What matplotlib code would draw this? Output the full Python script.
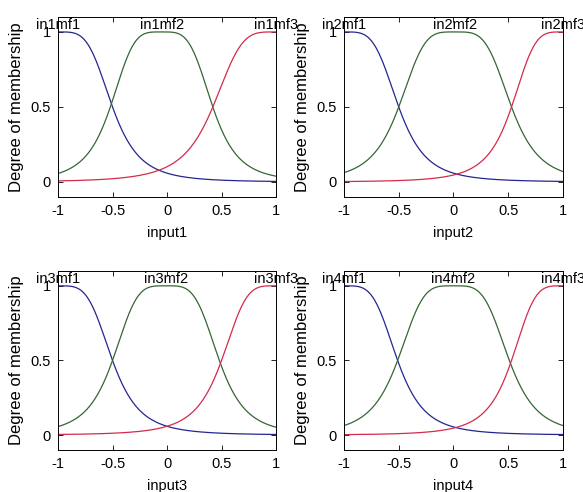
import numpy as np
import matplotlib
matplotlib.use('Agg')
import matplotlib.pyplot as plt

# membership function parameters (generalized bell: width a, slope b, centre c)
# one list per input: [mf1, mf2, mf3]
input_names = ['input1', 'input2', 'input3', 'input4']
mf_names = [['in1mf1', 'in1mf2', 'in1mf3'],
            ['in2mf1', 'in2mf2', 'in2mf3'],
            ['in3mf1', 'in3mf2', 'in3mf3'],
            ['in4mf1', 'in4mf2', 'in4mf3']]
widths = [[0.50, 0.47, 0.58],
          [0.50, 0.515, 0.47],
          [0.50, 0.49, 0.50],
          [0.49, 0.51, 0.47]]
slopes = [[2.0, 2.0, 2.0],
          [2.0, 2.0, 2.0],
          [2.0, 2.0, 2.0],
          [2.0, 2.0, 2.0]]
centres = [[-1.0, -0.05, 1.0],
           [-1.0, 0.015, 1.0],
           [-1.0, -0.01, 1.0],
           [-1.0, 0.0, 1.0]]
x_ticks = [-1, -0.5, 0, 0.5, 1]
y_ticks = [0, 0.5, 1]
x_tick_labels = ['-1', '-0.5', '0', '0.5', '1']
y_tick_labels = ['0', '0.5', '1']

colors = ['#25258f', '#356635', '#d42a4c']
fam = ['Liberation Sans', 'DejaVu Sans']


def gbell(x, a, b, c):
    return 1.0 / (1.0 + np.abs((x - c) / a) ** (2 * b))


fig = plt.figure(figsize=(5.83, 4.92), dpi=100)
boxes = [[0.0995, 0.5996, 0.374, 0.366],
         [0.590, 0.5996, 0.3757, 0.366],
         [0.0995, 0.0854, 0.374, 0.364],
         [0.590, 0.0854, 0.3757, 0.364]]

xs = np.linspace(-1, 1, 401)
for i in range(4):
    ax = fig.add_axes(boxes[i])
    for j in range(3):
        ys = gbell(xs, widths[i][j], slopes[i][j], centres[i][j])
        ax.plot(xs, ys, color=colors[j], lw=0.9)
        peak = xs[np.argmax(ys)]
        ax.text(peak, 1.0, mf_names[i][j], ha='center', va='bottom',
                fontsize=10.5, family=fam, clip_on=False)
    ax.set_xlim(-1, 1)
    ax.set_ylim(-0.1, 1.1)
    ax.set_xticks(x_ticks)
    ax.set_xticklabels(x_tick_labels, family=fam, fontsize=10.5)
    ax.set_yticks(y_ticks)
    ax.set_yticklabels(y_tick_labels, family=fam, fontsize=10.5)
    ax.tick_params(direction='in', length=3.5, width=0.6, top=True, right=True, pad=5)
    ax.set_xlabel(input_names[i], family=fam, fontsize=10.5, labelpad=6)
    ax.set_ylabel('Degree of membership', family=fam, fontsize=12, labelpad=5)
    for s in ax.spines.values():
        s.set_linewidth(0.7)

fig.savefig('out.png', dpi=100)
